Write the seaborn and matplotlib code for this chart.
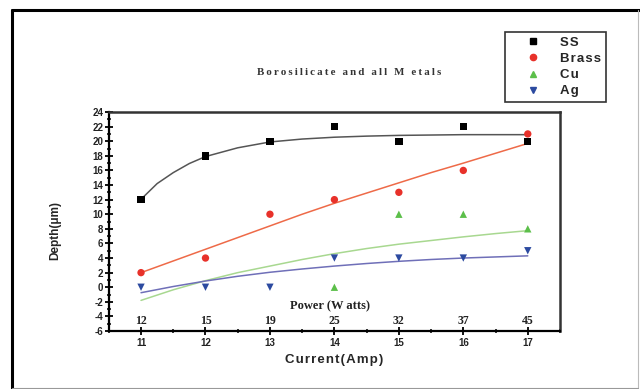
import numpy as np
import pandas as pd
import matplotlib
matplotlib.use("Agg")
import matplotlib.pyplot as plt
from matplotlib.lines import Line2D
from matplotlib.ticker import MultipleLocator
import seaborn as sns

# measured points
current = [11, 12, 13, 14, 15, 16, 17]
power = [12, 15, 19, 25, 32, 37, 45]
ss = [12, 18, 20, 22, 20, 22, 20]
brass = [2, 4, 10, 12, 13, 16, 21]
cu = [np.nan, np.nan, np.nan, 0, 10, 10, 8]
ag = [0, 0, 0, 4, 4, 4, 5]

# fitted curves
ss_fit_x = [11, 11.25, 11.5, 11.75, 12, 12.5, 13, 13.5, 14, 14.5, 15, 15.5, 16, 16.5, 17]
ss_fit = [12.05, 14.2, 15.7, 16.95, 17.9, 19.1, 19.9, 20.3, 20.55, 20.7, 20.8, 20.85, 20.9, 20.9, 20.9]
fit_x = [11, 11.5, 12, 12.5, 13, 13.5, 14, 14.5, 15, 15.5, 16, 16.5, 17]
brass_fit = [2.0, 3.6, 5.2, 6.8, 8.4, 10.0, 11.5, 12.9, 14.3, 15.7, 17.0, 18.35, 19.7]
cu_fit = [-1.8, -0.35, 0.9, 2.0, 2.9, 3.8, 4.6, 5.3, 5.9, 6.4, 6.9, 7.35, 7.75]
ag_fit = [-0.75, 0.1, 0.85, 1.5, 2.05, 2.5, 2.9, 3.25, 3.55, 3.8, 4.0, 4.15, 4.3]

metals = ["SS", "Brass", "Cu", "Ag"]
point_colors = {"SS": "#000000", "Brass": "#e8312a", "Cu": "#5cbf4a", "Ag": "#2c4aa0"}
fit_colors = {"SS": "#555555", "Brass": "#ee6a48", "Cu": "#a8d890", "Ag": "#6f6fb8"}
markers = {"SS": "s", "Brass": "o", "Cu": "^", "Ag": "v"}

points = pd.DataFrame({
    "current": current * 4,
    "depth": ss + brass + cu + ag,
    "metal": [m for m in metals for _ in current],
})
fits = pd.DataFrame({
    "current": ss_fit_x + fit_x * 3,
    "depth": ss_fit + brass_fit + cu_fit + ag_fit,
    "metal": ["SS"] * len(ss_fit_x) + [m for m in metals[1:] for _ in fit_x],
})

sns.set_style("ticks")
plt.rcParams["font.family"] = ["Liberation Sans", "DejaVu Sans"]
plt.rcParams["axes.unicode_minus"] = False

fig = plt.figure(figsize=(6.4, 3.89), dpi=100)
ax = fig.add_axes([0.170, 0.149, 0.705, 0.563])

sns.lineplot(data=fits, x="current", y="depth", hue="metal", palette=fit_colors,
             hue_order=metals, linewidth=1.1, legend=False, ax=ax, sort=False)
sns.scatterplot(data=points, x="current", y="depth", hue="metal", style="metal",
                palette=point_colors, markers=markers, hue_order=metals,
                style_order=metals, s=28, edgecolor="none", legend=False, ax=ax,
                zorder=3)

ax.set_xlim(10.5, 17.5)
ax.set_ylim(-6, 24)
ax.xaxis.set_major_locator(MultipleLocator(1))
ax.xaxis.set_minor_locator(MultipleLocator(0.5))
ax.yaxis.set_major_locator(MultipleLocator(2))
ax.yaxis.set_minor_locator(MultipleLocator(1))
ax.tick_params(axis="both", which="major", direction="inout", length=6, width=1.3,
               labelsize=7, color="black")
ax.tick_params(axis="both", which="minor", direction="inout", length=3.5, width=1.1,
               color="black")
ax.tick_params(axis="x", pad=2)
ax.tick_params(axis="y", pad=1)
for lab in ax.get_xticklabels() + ax.get_yticklabels():
    lab.set_fontweight("bold")
    lab.set_color("#222222")

for side in ["left", "bottom"]:
    ax.spines[side].set_linewidth(1.6)
    ax.spines[side].set_color("black")
for side in ["top", "right"]:
    ax.spines[side].set_visible(True)
    ax.spines[side].set_linewidth(1.8)
    ax.spines[side].set_color("#333333")

hs = "\u200a"
ax.set_xlabel(hs.join("Current(Amp)"), fontsize=9.5, fontweight="bold", labelpad=4)
ax.set_ylabel("Depth(\u03bcm)", fontsize=8.5, fontweight="bold", labelpad=8)
ax.yaxis.set_label_coords(-0.105, 0.46)

# power scale sitting on top of the bottom spine
sec = ax.secondary_xaxis(0.0)
sec.set_alignment("top")
sec.set_xticks(current, labels=[str(p) for p in power])
sec.tick_params(length=0, pad=3, labelsize=8.5)
for lab in sec.get_xticklabels():
    lab.set_family("Liberation Serif")
    lab.set_fontweight("bold")
    lab.set_color("#222222")
sec.spines["top"].set_visible(False)
ax.text(13.93, -2.55, "Power (W atts)", family="Liberation Serif", fontweight="bold",
        fontsize=9, ha="center", va="center", color="#222222")

fig.text(0.546, 0.813, "\u2009".join("Borosilicate and all M etals"),
         family="Liberation Serif", fontweight="bold", fontsize=7.8, ha="center",
         va="center", color="#333333")

handles = [Line2D([], [], linestyle="none", marker=markers[m], color=point_colors[m],
                  markersize=4.5) for m in metals]
labels = [hs.join(m) for m in metals]
leg = fig.legend(handles, labels, loc="upper left", bbox_to_anchor=(0.789, 0.918),
                 borderaxespad=0, frameon=True, fancybox=False, edgecolor="#333333",
                 framealpha=1, prop={"family": "Liberation Sans", "weight": "bold", "size": 9.5},
                 handletextpad=0.25, borderpad=0.35, labelspacing=0.3, handlelength=3.6)
leg.get_frame().set_linewidth(1.2)

# outer frame
fig.add_artist(Line2D([12 / 640, 12 / 640], [1 - 388 / 389, 1 - 10 / 389],
                      transform=fig.transFigure, color="black", linewidth=2.2))
fig.add_artist(Line2D([12 / 640, 1.0], [1 - 10 / 389, 1 - 10 / 389],
                      transform=fig.transFigure, color="black", linewidth=2.2))
fig.add_artist(Line2D([638 / 640, 638 / 640], [1 - 388 / 389, 1 - 10 / 389],
                      transform=fig.transFigure, color="#bbbbbb", linewidth=0.8))
fig.add_artist(Line2D([12 / 640, 638 / 640], [1 - 387.5 / 389, 1 - 387.5 / 389],
                      transform=fig.transFigure, color="#999999", linewidth=0.8))

fig.savefig("out.png", dpi=100)
